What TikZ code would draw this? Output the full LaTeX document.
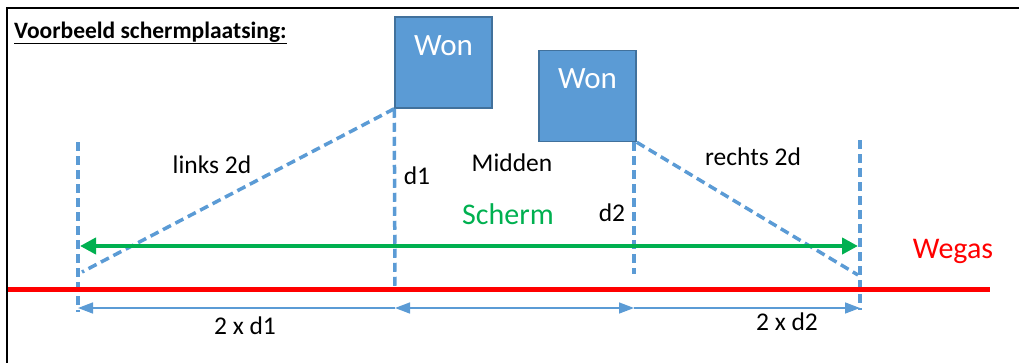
\documentclass[tikz,border=0pt]{standalone}
\usepackage{fontspec}
\setmainfont{Carlito}
\usetikzlibrary{arrows.meta}
\definecolor{boxblue}{HTML}{5B9BD5}
\definecolor{boxedge}{HTML}{41719C}
\definecolor{grn}{HTML}{00B050}
\begin{document}
\begin{tikzpicture}[x=1pt,y=-1pt,
  wonbox/.style={draw=boxedge, line width=1.5pt, fill=boxblue, minimum width=97pt, minimum height=91pt, inner sep=0pt},
  wontext/.style={text=white, font=\fontsize{31}{36}\selectfont, inner sep=0pt},
  lbl/.style={font=\fontsize{25.5}{30}\selectfont, inner sep=0pt},
  biglbl/.style={font=\fontsize{30}{36}\selectfont, inner sep=0pt},
  guide/.style={draw=boxblue, line width=3.5pt, dash pattern=on 9pt off 5pt},
  dim/.style={draw=boxblue, line width=1.5pt},
  dimtip/.style={-{Triangle[length=15pt,width=11pt]}},
]
\useasboundingbox (0,0) rectangle (1019,362);
\begin{scope}
\clip (0,0) rectangle (1019,362);
\draw[line width=2.5pt] (7,8) rectangle (1040,380);
\end{scope}
% title
\node[anchor=west, inner sep=0pt, font=\bfseries\fontsize{23.5}{28}\selectfont] (title) at (14,33) {\underline{Voorbeeld schermplaatsing:}};
% houses
\node[wonbox] (w1) at (443.5,62.5) {};
\node[wontext] (w1t) at (443.5,46) {Won};
\node[wonbox] (w2) at (587.5,96) {};
\node[wontext] (w2t) at (587.5,79) {Won};
% coordinates
\coordinate (ltop) at (78,142);
\coordinate (lbot) at (78,312);
\coordinate (rtop) at (860,140);
\coordinate (rbot) at (860,310);
\coordinate (d1bot) at (395,288);
\coordinate (d2top) at (634,142);
\coordinate (d2bot) at (634,274);
\coordinate (diag1) at (82,272);
\coordinate (diag2) at (858,275);
% guides
\draw[guide] (ltop) -- (lbot);
\draw[guide] (rtop) -- (rbot);
\draw[guide] (w1.south west) -- (d1bot);
\draw[guide] (d2top) -- (d2bot);
\draw[guide] (w1.south west) -- (diag1);
\draw[guide] (w2.south east) -- (diag2);
% road
\coordinate (roadL) at (8,289);
\coordinate (roadR) at (990,289);
\draw[red, line width=5pt] (roadL) -- (roadR);
% screen
\coordinate (scrL) at (80,246);
\coordinate (scrR) at (858,246);
\draw[grn, line width=4.5pt, {Triangle[length=16pt,width=16pt]}-{Triangle[length=16pt,width=16pt]}] (scrL) -- (scrR);
% dimensions
\coordinate (m0) at (78,308);
\coordinate (m1) at (395,308);
\coordinate (m2) at (634,308);
\coordinate (m3) at (860,308);
\draw[dim, dimtip] (m1) -- (m0);
\draw[dim, {Triangle[length=15pt,width=11pt]}-{Triangle[length=15pt,width=11pt]}] (m1) -- (m2);
\draw[dim, dimtip] (m2) -- (m3);
% labels
\node[lbl] (links) at (212,165) {links 2d};
\node[lbl] (dA) at (417,176) {d1};
\node[lbl] (mid) at (512,163) {Midden};
\node[lbl] (rechts) at (753,157) {rechts 2d};
\node[biglbl, text=grn] (scherm) at (508,214) {Scherm};
\node[lbl] (dB) at (612,213) {d2};
\node[biglbl, text=red] (wegas) at (953,251) {Wegas};
\node[lbl] (x1) at (245,326) {2 x d1};
\node[lbl] (x2) at (787,322) {2 x d2};
\end{tikzpicture}
\end{document}
